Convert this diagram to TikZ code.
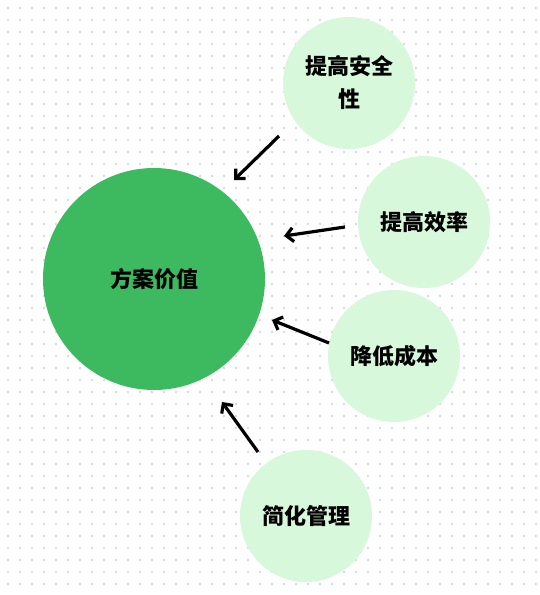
\documentclass[tikz,border=0pt]{standalone}
\usepackage{fontspec}
\newfontfamily\cjk{Noto Sans CJK SC}
\usetikzlibrary{arrows.meta}
\definecolor{valuegreen}{HTML}{3DBA60}
\definecolor{palegreen}{HTML}{D7F8DA}
\definecolor{griddot}{HTML}{D9D9E3}
\tikzset{
  bigball/.style={circle, fill=valuegreen, minimum size=222pt, inner sep=0pt, font=\cjk\bfseries\fontsize{22}{26}\selectfont},
  smallball/.style={circle, fill=palegreen, minimum size=132pt, inner sep=0pt, align=center, font=\cjk\bfseries\fontsize{22}{33}\selectfont},
  push/.style={line width=3.2pt, -{Straight Barb[length=7pt,width=14pt]}}
}
\begin{document}
\begin{tikzpicture}[x=1pt,y=-1pt]
		\useasboundingbox (0,0) rectangle (539,595);
		% dotted background
		\foreach \i in {0,...,44}
			\foreach \j in {0,...,49}
				\fill[griddot] (8+12*\i-1, 8+12*\j-1) rectangle ++(2,2);
		% circles
		\node[bigball] (value) at (154,279) {方案价值};
		\node[smallball] (safety) at (349,83) {提高安全\\性};
		\node[smallball] (speed) at (424,222) {提高效率};
		\node[smallball] (cost) at (394,356) {降低成本};
		\node[smallball] (manage) at (306,516) {简化管理};
		% arrow ends
		\coordinate (a1) at (279,136);
		\coordinate (b1) at (234,180);
		\coordinate (a2) at (345,227);
		\coordinate (b2) at (284,236);
		\coordinate (a3) at (329,343);
		\coordinate (b3) at (272,320);
		\coordinate (a4) at (258,452);
		\coordinate (b4) at (222,402);
		\draw[push] (a1) -- (b1);
		\draw[push] (a2) -- (b2);
		\draw[push] (a3) -- (b3);
		\draw[push] (a4) -- (b4);
	\end{tikzpicture}
\end{document}
